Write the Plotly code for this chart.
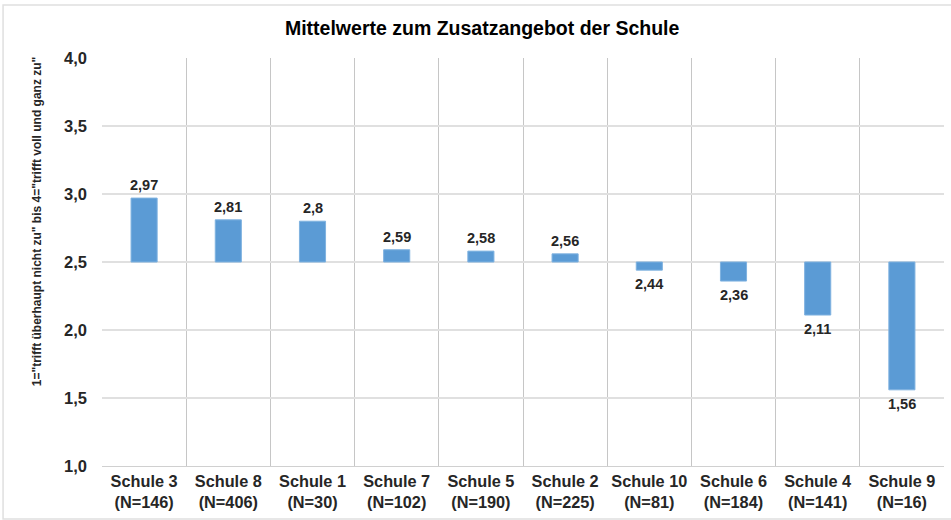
import plotly.graph_objects as go

schools = ["Schule 3", "Schule 8", "Schule 1", "Schule 7", "Schule 5",
           "Schule 2", "Schule 10", "Schule 6", "Schule 4", "Schule 9"]
n_values = [146, 406, 30, 102, 190, 225, 81, 184, 141, 16]
means = [2.97, 2.81, 2.80, 2.59, 2.58, 2.56, 2.44, 2.36, 2.11, 1.56]
baseline = 2.5
y_ticks = [1.0, 1.5, 2.0, 2.5, 3.0, 3.5, 4.0]

categories = [f"{s}<br>(N={n})" for s, n in zip(schools, n_values)]
labels = ["<b>" + (f"{m:.2f}".rstrip("0")).replace(".", ",") + "</b>" for m in means]

fig = go.Figure()
fig.add_trace(go.Bar(
    x=categories,
    y=[m - baseline for m in means],
    base=baseline,
    width=0.31,
    marker=dict(color="#5B9BD5", line=dict(color="#7FB2E0", width=1)),
    hoverinfo="skip",
))

value_annotations = [dict(
    x=c, y=m, xref="x", yref="y", text=t, showarrow=False,
    yshift=13 if m >= baseline else -14,
    xanchor="center", yanchor="middle",
    font=dict(family="Liberation Sans, Arial, sans-serif", size=14.5, color="#262626"),
) for c, m, t in zip(categories, means, labels)]

fig.update_layout(
    width=951, height=520,
    margin=dict(l=102, r=7, t=58, b=54),
    paper_bgcolor="white", plot_bgcolor="white",
    showlegend=False,
    font=dict(family="Liberation Sans, Arial, sans-serif", color="#262626"),
    title=dict(text="<b>Mittelwerte zum Zusatzangebot der Schule</b>",
               x=0.507, xanchor="center", y=0.945, yanchor="middle",
               font=dict(size=19.5, color="#000000")),
    xaxis=dict(
        type="category", tickson="boundaries",
        showgrid=True, gridcolor="#C6C6C6", gridwidth=1,
        showline=True, linecolor="#D0D0D0", mirror=False,
        ticks="", tickfont=dict(size=16.3, color="#262626"),
        tickprefix="<b>", ticksuffix="</b>",
    ),
    yaxis=dict(
        range=[1.0, 4.0], tickvals=y_ticks,
        ticktext=[f"<b>{v:.1f}</b>".replace(".", ",") for v in y_ticks],
        showgrid=True, gridcolor="#E0E0E0", gridwidth=2,
        zeroline=False, showline=False, ticks="",
        tickfont=dict(size=16.5, color="#262626"),
        ticklabelstandoff=14,
    ),
    annotations=value_annotations + [dict(
        text="<b>1=\"trifft überhaupt nicht zu\" bis 4=\"trifft voll und ganz zu\"</b>",
        xref="paper", yref="paper", x=-0.077, y=0.598, textangle=-90,
        showarrow=False, font=dict(size=12, color="#262626"),
        xanchor="center", yanchor="middle",
    )],
    shapes=[dict(type="rect", xref="paper", yref="paper",
                 x0=-0.1175, x1=1.01, y0=-0.13, y1=1.13,
                 line=dict(color="#E0E0E0", width=1.5), layer="below")],
)

fig.write_html("out.html", config={"displayModeBar": False},
               post_script="document.body.style.margin='0';")
